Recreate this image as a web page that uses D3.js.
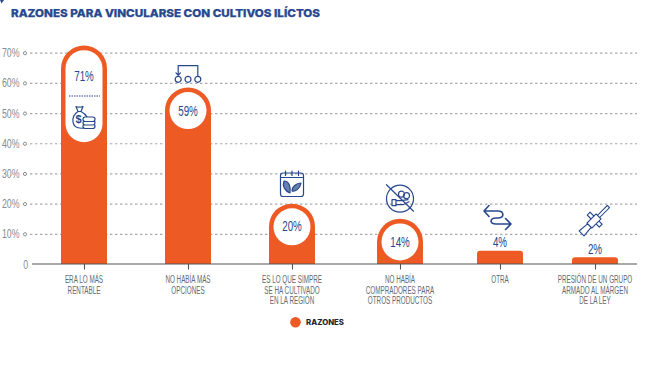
<!DOCTYPE html>
<meta charset="utf-8">
<style>
  html, body { margin: 0; background: #fff; }
  svg { display: block; }
  text { font-family: "Liberation Sans", sans-serif; }
</style>

<!-- Load d3.js -->
<script src="https://d3js.org/d3.v7.min.js"></script>

<div id="my_dataviz"></div>

<script>

// data
var categories = [
  ["ERA LO MÁS", "RENTABLE"],
  ["NO HABÍA MÁS", "OPCIONES"],
  ["ES LO QUE SIMPRE", "SE HA CULTIVADO", "EN LA REGIÓN"],
  ["NO HABÍA", "COMPRADORES PARA", "OTROS PRODUCTOS"],
  ["OTRA"],
  ["PRESIÓN DE UN GRUPO", "ARMADO AL MÁRGEN", "DE LA LEY"]
];
var barHeights = [72.4, 58.5, 20, 15, 4.4, 2.2];   // as drawn, the first bar runs over its label
var valueLabels = ["71%", "59%", "20%", "14%", "4%", "2%"];
var yTicks = [0, 10, 20, 30, 40, 50, 60, 70];

var width = 664, height = 371;
var navy = "#27488f", orange = "#ee5a24", gray = "#626a73";

var svg = d3.select("#my_dataviz")
  .append("svg")
    .attr("width", width)
    .attr("height", height);

var idx = d3.range(categories.length);

// the columns are not evenly spaced in the original
var x = d3.scaleOrdinal().domain(idx).range([84, 188, 292, 400, 500, 595]);
var y = d3.scaleLinear().domain([0, 70]).range([264, 52.7]);
var barW = 46;

// no condensed font is installed, so squeeze the normal one sideways
function squeeze(sel, k) {
  sel.each(function () {
    d3.select(this)
      .attr("textLength", this.getComputedTextLength() * k)
      .attr("lengthAdjust", "spacingAndGlyphs");
  });
}

// small corner mark
svg.append("path").attr("d", "M0,0H4L1.5,3.5Z").attr("fill", navy);

// title
svg.append("text")
  .text("RAZONES PARA VINCULARSE CON CULTIVOS ILÍCTOS")
  .attr("x", 11).attr("y", 17)
  .attr("textLength", 309)
  .attr("lengthAdjust", "spacingAndGlyphs")
  .style("font-family", "Inter, 'Open Sans', sans-serif")
  .style("font-weight", 800)
  .style("font-size", "10.8px")
  .attr("fill", navy)
  .attr("stroke", navy).attr("stroke-width", 0.25);

// y axis with dotted gridlines
var yAxis = svg.append("g")
  .attr("transform", "translate(30,0)")
  .call(d3.axisLeft(y).tickValues(yTicks).tickSize(0).tickPadding(10)
    .tickFormat(function (d) { return d === 0 ? "0" : d + "%"; }));
yAxis.select(".domain").remove();
yAxis.selectAll("text")
  .style("font-family", "'Liberation Sans', sans-serif")
  .style("font-size", "12.5px")
  .attr("fill", "#858b91")
  .attr("x", function (d) { return d === 0 ? -2 : -10.5; })
  .call(squeeze, 0.7);
yAxis.selectAll(".tick").filter(function (d) { return d > 0; })
  .each(function () {
    var t = d3.select(this);
    t.append("line").attr("x1", 0).attr("x2", 607)
      .attr("stroke", "#a9a9a9").attr("stroke-width", 1.2).attr("stroke-dasharray", "2.4,2.6");
    t.append("circle").attr("cx", -5).attr("r", 1.6)
      .attr("fill", "#fff").attr("stroke", "#8d8d8d");
  });

// bars
function barPath(d) {
  var cx = x(d), top = y(barHeights[d]), base = y(0), hw = barW / 2;
  var r = base - top > 30 ? hw : 3;
  return "M" + (cx - hw) + "," + base + "V" + (top + r) +
    "A" + r + "," + r + " 0 0 1 " + (cx - hw + r) + "," + top +
    "H" + (cx + hw - r) +
    "A" + r + "," + r + " 0 0 1 " + (cx + hw) + "," + (top + r) +
    "V" + base + "Z";
}
svg.selectAll(".bar").data(idx).enter().append("path")
  .attr("class", "bar").attr("d", barPath).attr("fill", orange);

// white pills inside the four tall bars
var pillH = [92, 37, 37, 37];
svg.selectAll(".pill").data(idx.slice(0, 4)).enter().append("rect")
  .attr("class", "pill")
  .attr("x", function (d) { return x(d) - 18.5; })
  .attr("y", function (d) { return y(barHeights[d]) + 4.7; })
  .attr("width", 37)
  .attr("height", function (d) { return pillH[d]; })
  .attr("rx", 18.5)
  .attr("fill", "#fff");

// value labels
var labelY = [76, 110.5, 226, 241.5, 242, 248.7];
svg.selectAll(".val").data(idx).enter().append("text")
  .attr("class", "val")
  .attr("x", function (d) { return x(d); })
  .attr("y", function (d) { return labelY[d]; })
  .attr("dy", "0.36em")
  .attr("text-anchor", "middle")
  .style("font-size", "14px")
  .attr("fill", navy)
  .text(function (d) { return valueLabels[d]; })
  .call(squeeze, 0.7);

// x axis
svg.append("line")
  .attr("x1", 32).attr("x2", 637).attr("y1", y(0)).attr("y2", y(0))
  .attr("stroke", "#555").attr("stroke-width", 1.2);
var xAxis = svg.append("g")
  .attr("transform", "translate(0," + y(0) + ")")
  .call(d3.axisBottom(x).tickSize(5.5).tickFormat(""));
xAxis.select(".domain").remove();
xAxis.selectAll("line").attr("stroke", "#555").attr("stroke-width", 1.1);

// category labels, up to three lines each
idx.forEach(function (d) {
  categories[d].forEach(function (line, i) {
    svg.append("text")
      .attr("class", "cat")
      .attr("x", x(d))
      .attr("y", 283 + i * 10.5)
      .attr("text-anchor", "middle")
      .style("font-size", "10px")
      .attr("fill", gray)
      .text(line)
      .call(squeeze, 0.63);
  });
});

// legend
svg.append("circle").attr("cx", 295.5).attr("cy", 322.3).attr("r", 5.3).attr("fill", orange);
svg.append("text")
  .text("RAZONES")
  .attr("x", 306).attr("y", 325)
  .attr("textLength", 38)
  .attr("lengthAdjust", "spacingAndGlyphs")
  .style("font-family", "Inter, 'Open Sans', sans-serif")
  .style("font-weight", 800)
  .style("font-size", "7.5px")
  .attr("fill", "#1d2536");

// icons, drawn in their own little coordinate space around each column
function icon(cx, cy) {
  return svg.append("g")
    .attr("transform", "translate(" + cx + "," + cy + ")")
    .attr("fill", "none").attr("stroke", navy).attr("stroke-width", 1.2)
    .attr("stroke-linecap", "round").attr("stroke-linejoin", "round");
}

// 71%: divider, money bag and coins
svg.append("line").attr("x1", x(0) - 15).attr("x2", x(0) + 16).attr("y1", 96).attr("y2", 96)
  .attr("stroke", navy).attr("stroke-width", 1).attr("stroke-dasharray", "1.5,1");
var bag = icon(x(0), 118);
bag.append("path").attr("d", "M-8,-11.5C-6,-10.5 -4,-10.5 -1,-11.5L-3,-6.5H-6ZM-6,-6.5C-10,-4 -11.5,0 -11,4C-10.5,9 -6,10.5 -1,10.2M-3,-6.5C0,-5 2,-3 3,-1");
bag.append("text").text("$").attr("x", -5.5).attr("y", 5).attr("text-anchor", "middle")
  .attr("stroke", "none").attr("fill", navy).style("font-size", "11px").style("font-weight", 700);
[7, 3.5, 0].forEach(function (dy) {
  bag.append("rect").attr("x", -1).attr("y", dy - 1).attr("width", 12).attr("height", 4.5).attr("rx", 2.2).attr("fill", "#fff");
});

// 59%: three options with an arrow back to the first
var opts = icon(x(1), 79.3);
[-9.8, 0, 9.8].forEach(function (dx) {
  opts.append("circle").attr("cx", dx).attr("r", 3).attr("fill", "#fff");
});
opts.append("path").attr("d", "M9.8,-3V-13.6H-9.8V-4M-12,-6.5L-9.8,-4L-7.6,-6.5");

// 20%: calendar with leaves
var cal = icon(x(2), 184);
cal.append("rect").attr("x", -11.5).attr("y", -11).attr("width", 23).attr("height", 23.5).attr("rx", 2.5);
cal.append("path").attr("d", "M-11.5,-6.5H11.5M-6.5,-13V-8.5M0,-13V-8.5M6.5,-13V-8.5");
cal.append("path").attr("fill", navy).attr("fill-opacity", 0.7)
  .attr("d", "M-8,-3C-3,-3 -1,3 -2,9C-7,7 -10,2 -8,-3ZM9,-1C8,5 3,8 0,7C0,3 4,-1 9,-1Z");

// 14%: crossed-out hand with coins
var noBuy = icon(x(3), 198.7);
noBuy.append("circle").attr("r", 13.5);
noBuy.append("path").attr("d", "M-13.5,-14L13.5,12.5");
noBuy.append("path").attr("d", "M-8,1H-4V7H-8ZM-4,2H1L8,1M-4,6H3L9,3");
noBuy.append("circle").attr("cx", 1.5).attr("cy", -4.5).attr("r", 3);
noBuy.append("circle").attr("cx", 6.5).attr("cy", -3).attr("r", 3);

// 4%: looping arrows
var loop = icon(x(4), 218);
loop.attr("stroke-width", 1.6);
loop.append("path").attr("d", "M-16,-7H-2C4,-7 5,0 -2,0H-4C-10,0 -11,6 -4,6H11M-11,-12.5L-16,-7L-11,-1.5M5.5,0.5L11,6L5.5,11.5");

// 2%: rifle
var rifle = svg.append("g")
  .attr("transform", "translate(" + x(5) + ",220) rotate(-45)")
  .attr("fill", "#fff").attr("stroke", navy).attr("stroke-width", 1.1).attr("stroke-linejoin", "round");
rifle.append("rect").attr("x", 4).attr("y", -1.5).attr("width", 15).attr("height", 3);
rifle.append("rect").attr("x", -2).attr("y", -9).attr("width", 4).attr("height", 6);
rifle.append("rect").attr("x", -2).attr("y", 1).attr("width", 4).attr("height", 7);
rifle.append("rect").attr("x", -8).attr("y", -3.5).attr("width", 13).attr("height", 7);
rifle.append("path").attr("d", "M-8,-2.5L-19,-3.5V3.5L-8,2.5Z");

</script>
